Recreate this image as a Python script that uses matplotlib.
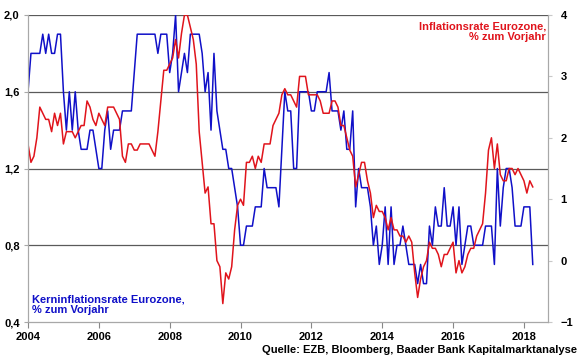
import matplotlib
matplotlib.use("Agg")
import matplotlib.pyplot as plt
import numpy as np

plt.rcParams['font.family'] = ['Liberation Sans', 'DejaVu Sans']
plt.rcParams['font.weight'] = 'bold'

# monthly values, Jan 2004 - Apr 2018
start_year = 2004

# Kerninflationsrate Eurozone, % zum Vorjahr (left axis)
core = [
    1.6, 1.8, 1.8, 1.8, 1.8, 1.9, 1.8, 1.9, 1.8, 1.8, 1.9, 1.9,  # 2004
    1.6, 1.4, 1.6, 1.4, 1.6, 1.4, 1.3, 1.3, 1.3, 1.4, 1.4, 1.3,  # 2005
    1.2, 1.2, 1.4, 1.5, 1.3, 1.4, 1.4, 1.4, 1.5, 1.5, 1.5, 1.5,  # 2006
    1.7, 1.9, 1.9, 1.9, 1.9, 1.9, 1.9, 1.9, 1.8, 1.9, 1.9, 1.9,  # 2007
    1.7, 1.8, 2.0, 1.6, 1.7, 1.8, 1.7, 1.9, 1.9, 1.9, 1.9, 1.8,  # 2008
    1.6, 1.7, 1.4, 1.8, 1.5, 1.4, 1.3, 1.3, 1.2, 1.2, 1.1, 1.0,  # 2009
    0.8, 0.8, 0.9, 0.9, 0.9, 1.0, 1.0, 1.0, 1.2, 1.1, 1.1, 1.1,  # 2010
    1.1, 1.0, 1.3, 1.6, 1.5, 1.5, 1.2, 1.2, 1.6, 1.6, 1.6, 1.6,  # 2011
    1.5, 1.5, 1.6, 1.6, 1.6, 1.6, 1.7, 1.5, 1.5, 1.5, 1.4, 1.5,  # 2012
    1.3, 1.3, 1.5, 1.0, 1.2, 1.1, 1.1, 1.1, 1.0, 0.8, 0.9, 0.7,  # 2013
    0.8, 1.0, 0.7, 1.0, 0.7, 0.8, 0.8, 0.9, 0.8, 0.7, 0.7, 0.7,  # 2014
    0.6, 0.7, 0.6, 0.6, 0.9, 0.8, 1.0, 0.9, 0.9, 1.1, 0.9, 0.9,  # 2015
    1.0, 0.8, 1.0, 0.7, 0.8, 0.9, 0.9, 0.8, 0.8, 0.8, 0.8, 0.9,  # 2016
    0.9, 0.9, 0.7, 1.2, 0.9, 1.1, 1.2, 1.2, 1.1, 0.9, 0.9, 0.9,  # 2017
    1.0, 1.0, 1.0, 0.7,                                          # 2018
]

# Inflationsrate Eurozone, % zum Vorjahr (right axis)
headline = [
    1.9, 1.6, 1.7, 2.0, 2.5, 2.4, 2.3, 2.3, 2.1, 2.4, 2.2, 2.4,
    1.9, 2.1, 2.1, 2.1, 2.0, 2.1, 2.2, 2.2, 2.6, 2.5, 2.3, 2.2,
    2.4, 2.3, 2.2, 2.5, 2.5, 2.5, 2.4, 2.3, 1.7, 1.6, 1.9, 1.9,
    1.8, 1.8, 1.9, 1.9, 1.9, 1.9, 1.8, 1.7, 2.1, 2.6, 3.1, 3.1,
    3.2, 3.3, 3.6, 3.3, 3.7, 4.0, 4.0, 3.8, 3.6, 3.2, 2.1, 1.6,
    1.1, 1.2, 0.6, 0.6, 0.0, -0.1, -0.7, -0.2, -0.3, -0.1, 0.5, 0.9,
    1.0, 0.9, 1.6, 1.6, 1.7, 1.5, 1.7, 1.6, 1.9, 1.9, 1.9, 2.2,
    2.3, 2.4, 2.7, 2.8, 2.7, 2.7, 2.6, 2.5, 3.0, 3.0, 3.0, 2.7,
    2.7, 2.7, 2.7, 2.6, 2.4, 2.4, 2.4, 2.6, 2.6, 2.5, 2.2, 2.2,
    2.0, 1.8, 1.7, 1.2, 1.4, 1.6, 1.6, 1.3, 1.1, 0.7, 0.9, 0.8,
    0.8, 0.7, 0.5, 0.7, 0.5, 0.5, 0.4, 0.4, 0.3, 0.4, 0.3, -0.2,
    -0.6, -0.3, -0.1, 0.0, 0.3, 0.2, 0.2, 0.1, -0.1, 0.1, 0.1, 0.2,
    0.3, -0.2, 0.0, -0.2, -0.1, 0.1, 0.2, 0.2, 0.4, 0.5, 0.6, 1.1,
    1.8, 2.0, 1.5, 1.9, 1.4, 1.3, 1.3, 1.5, 1.5, 1.4, 1.5, 1.4,
    1.3, 1.1, 1.3, 1.2,
]

left_ticks = [0.4, 0.8, 1.2, 1.6, 2.0]
left_labels = ['0,4', '0,8', '1,2', '1,6', '2,0']
right_ticks = [-1, 0, 1, 2, 3, 4]
year_ticks = [2004, 2006, 2008, 2010, 2012, 2014, 2016, 2018]

blue = '#1010c8'
red = '#e0141c'

x = start_year + np.arange(len(core)) / 12.0

fig = plt.figure(figsize=(5.8, 3.58), dpi=100)
ax = fig.add_axes([28 / 580, 1 - 322 / 358, 520 / 580, 307 / 358])
ax2 = ax.twinx()

ax.plot(x, core, color=blue, lw=1.1)
ax2.plot(x, headline, color=red, lw=1.1)

ax.set_xlim(2004, 2018.68)
ax.set_ylim(0.4, 2.0)
ax2.set_ylim(-1, 4)

# horizontal grid lines on the left scale
for g in [0.8, 1.2, 1.6, 2.0]:
    ax.axhline(g, color='#5a5a5a', lw=0.9, zorder=0)

ax.set_yticks(left_ticks)
ax.set_yticklabels(left_labels)
ax2.set_yticks(right_ticks)
ax.set_xticks(year_ticks)

for a in (ax, ax2):
    for s in a.spines.values():
        s.set_color('#a8a8a8')
    a.spines['top'].set_visible(False)
ax.spines['bottom'].set_color('#888888')

ax.tick_params(axis='x', length=4, color='#888888', labelsize=8, pad=3)
ax.tick_params(axis='y', length=3, color='#a8a8a8', labelsize=8, pad=3)
ax2.tick_params(axis='y', length=3, color='#c8c8c8', labelsize=8, pad=6)

fig.text(32 / 580, 1 - 305 / 358, 'Kerninflationsrate Eurozone,\n% zum Vorjahr',
         color=blue, fontsize=8, fontweight='bold', va='center', ha='left',
         linespacing=1.1)
fig.text(546 / 580, 1 - 32 / 358, 'Inflationsrate Eurozone,\n% zum Vorjahr',
         color=red, fontsize=8, fontweight='bold', va='center', ha='right',
         linespacing=1.1, multialignment='right')
fig.text(577 / 580, 1 - 350 / 358, 'Quelle: EZB, Bloomberg, Baader Bank Kapitalmarktanalyse',
         color='black', fontsize=8, fontweight='bold', va='center', ha='right')

fig.savefig('out.png', dpi=100)
